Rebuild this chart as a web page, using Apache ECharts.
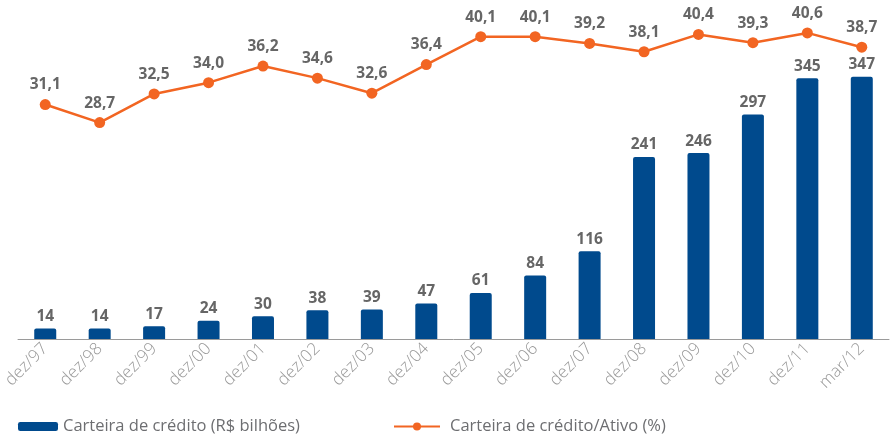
<!DOCTYPE html>
<html>
<head>
<meta charset="utf-8">
<script src="https://cdn.jsdelivr.net/npm/echarts@6/dist/echarts.min.js"></script>
<style>
  html, body { margin: 0; padding: 0; background: #fff; }
  #chart { width: 890px; height: 436px; }
</style>
</head>
<body>
<div id="chart"></div>
<script>
const categories = ["dez/97", "dez/98", "dez/99", "dez/00", "dez/01", "dez/02", "dez/03", "dez/04",
  "dez/05", "dez/06", "dez/07", "dez/08", "dez/09", "dez/10", "dez/11", "mar/12"];
const carteira = [14, 14, 17, 24, 30, 38, 39, 47, 61, 84, 116, 241, 246, 297, 345, 347];
const carteiraAtivo = [31.1, 28.7, 32.5, 34.0, 36.2, 34.6, 32.6, 36.4, 40.1, 40.1, 39.2, 38.1, 40.4, 39.3, 40.6, 38.7];

const BLUE = "#004a8d";
const ORANGE = "#f26522";
const FONT = "'Open Sans', 'Noto Sans', sans-serif";

const labelStyle = {
  show: true,
  position: "top",
  color: "#666666",
  fontFamily: FONT,
  fontWeight: "bold",
  fontSize: 15.5,
};

const chart = echarts.init(document.getElementById("chart"), null, { renderer: "canvas" });

chart.setOption({
  animation: false,
  grid: { left: 17.5, right: 1, top: 5, bottom: 97 },
  legend: [
    {
      data: ["Carteira de crédito (R$ bilhões)"],
      left: 13,
      top: 413,
      itemWidth: 40,
      itemHeight: 9,
      textStyle: { color: "#6d6e71", fontFamily: FONT, fontSize: 16.5 },
    },
    {
      data: ["Carteira de crédito/Ativo (%)"],
      left: 388,
      top: 413,
      itemWidth: 46,
      itemHeight: 10,
      textStyle: { color: "#6d6e71", fontFamily: FONT, fontSize: 16.5, padding: [0, 0, 0, 5] },
    },
  ],
  xAxis: {
    type: "category",
    data: categories,
    axisLine: { lineStyle: { color: "#9a9a9a", width: 1 } },
    axisTick: { show: false },
    axisLabel: {
      rotate: 45,
      color: "#999999",
      fontFamily: FONT,
      fontWeight: 300,
      fontSize: 17,
      margin: 7,
      interval: 0,
    },
  },
  yAxis: [
    { type: "value", min: 0, max: 442, show: false, splitLine: { show: false } },
    { type: "value", min: 0, max: 44.3, show: false, splitLine: { show: false } },
  ],
  series: [
    {
      name: "Carteira de crédito (R$ bilhões)",
      type: "bar",
      data: carteira,
      barWidth: 22,
      itemStyle: { color: BLUE, borderRadius: [2, 2, 0, 0] },
      label: { ...labelStyle, distance: 4 },
    },
    {
      name: "Carteira de crédito/Ativo (%)",
      type: "line",
      yAxisIndex: 1,
      data: carteiraAtivo,
      symbol: "circle",
      symbolSize: 11,
      lineStyle: { color: ORANGE, width: 2.5 },
      itemStyle: { color: ORANGE },
      label: {
        ...labelStyle,
        distance: 6,
        formatter: (p) => p.value.toFixed(1).replace(".", ","),
      },
    },
  ],
});
</script>
</body>
</html>
